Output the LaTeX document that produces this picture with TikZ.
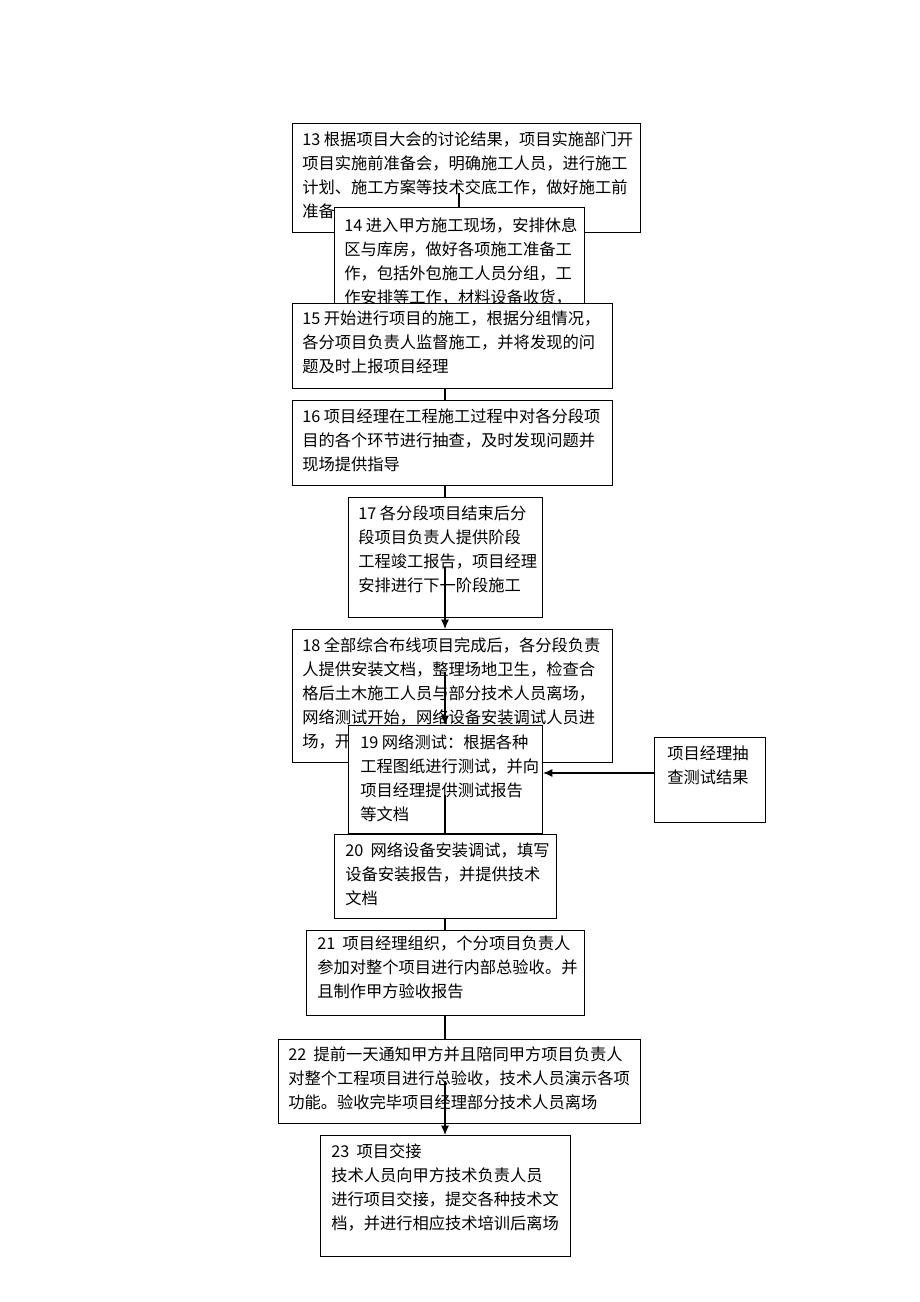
\documentclass[tikz,border=0pt]{standalone}
\usepackage{fontspec}
\usetikzlibrary{arrows.meta}
\setmainfont{Noto Sans CJK SC}
\begin{document}
\begin{tikzpicture}[x=0.75pt,y=-0.75pt,
  box/.style={draw,fill=white,line width=0.8pt,anchor=north west,inner sep=0pt},
  txt/.style={anchor=north west,inner sep=0pt,align=left,font=\fontsize{12.2}{18}\selectfont},
  con/.style={line width=0.8pt},
  arr/.style={con,-{Latex[length=7pt,width=6pt]}}]
\useasboundingbox (0,0) rectangle (920,1302);
\node[box,minimum width=261pt,minimum height=81.75pt] (b13) at (292,123) {};
\node[txt] (t13) at (302,131) {13 根据项目大会的讨论结果，项目实施部门开\\项目实施前准备会，明确施工人员，进行施工\\计划、施工方案等技术交底工作，做好施工前\\准备};
\node[box,minimum width=187.5pt,minimum height=75pt] (b14) at (334,207) {};
\node[txt] (t14) at (344,217) {14 进入甲方施工现场，安排休息\\区与库房，做好各项施工准备工\\作，包括外包施工人员分组，工\\作安排等工作，材料设备收货，};
\node[box,minimum width=240pt,minimum height=63.75pt] (b15) at (292,303) {};
\node[txt] (t15) at (302,311) {15 开始进行项目的施工，根据分组情况，\\各分项目负责人监督施工，并将发现的问\\题及时上报项目经理};
\node[box,minimum width=240pt,minimum height=63.75pt] (b16) at (292,400) {};
\node[txt] (t16) at (302,408) {16 项目经理在工程施工过程中对各分段项\\目的各个环节进行抽查，及时发现问题并\\现场提供指导};
\node[box,minimum width=145.5pt,minimum height=90pt] (b17) at (348,497) {};
\node[txt] (t17) at (358,505) {17 各分段项目结束后分\\段项目负责人提供阶段\\工程竣工报告，项目经理\\安排进行下一阶段施工};
\node[box,minimum width=240pt,minimum height=99.75pt] (b18) at (292,629) {};
\node[txt] (t18) at (302,637) {18 全部综合布线项目完成后，各分段负责\\人提供安装文档，整理场地卫生，检查合\\格后土木施工人员与部分技术人员离场，\\网络测试开始，网络设备安装调试人员进\\场，开};
\node[box,minimum width=145.5pt,minimum height=81pt] (b19) at (348,725) {};
\node[txt] (t19) at (360,734) {19 网络测试：根据各种\\工程图纸进行测试，并向\\项目经理提供测试报告\\等文档};
\node[box,minimum width=166.5pt,minimum height=63pt] (b20) at (334,834) {};
\node[txt] (t20) at (345,842) {20\ \ 网络设备安装调试，填写\\设备安装报告，并提供技术\\文档};
\node[box,minimum width=83.25pt,minimum height=63.75pt] (bR) at (654,737) {};
\node[txt] (tR) at (667,746) {项目经理抽\\查测试结果};
\node[box,minimum width=208.5pt,minimum height=63.75pt] (b21) at (306,930) {};
\node[txt] (t21) at (317,936) {21\ \ 项目经理组织，个分项目负责人\\参加对整个项目进行内部总验收。并\\且制作甲方验收报告};
\node[box,minimum width=271.5pt,minimum height=63pt] (b22) at (278,1039) {};
\node[txt] (t22) at (288,1046) {22\ \ 提前一天通知甲方并且陪同甲方项目负责人\\对整个工程项目进行总验收，技术人员演示各项\\功能。验收完毕项目经理部分技术人员离场};
\node[box,minimum width=187.5pt,minimum height=90.75pt] (b23) at (320,1135) {};
\node[txt] (t23) at (331,1143) {23\ \ 项目交接\\技术人员向甲方技术负责人员\\进行项目交接，提交各种技术文\\档，并进行相应技术培训后离场};
% connectors
\coordinate (mx) at (445,0);
\coordinate (my) at (0,773);
\coordinate (c13) at (459,193);
\coordinate (c17) at (445,567);
\coordinate (c18) at (445,672);
\coordinate (c19) at (445,795);
\coordinate (c22) at (445,1081);
\draw[con] (c13) -- (c13 |- b14.north);
\draw[con] (b15.south -| mx) -- (b16.north -| mx);
\draw[con] (b16.south -| mx) -- (b17.north -| mx);
\draw[arr] (c17) -- (b18.north -| c17);
\draw[arr] (c18) -- (b19.north -| c18);
\draw[con] (c19) -- (b20.north -| c19);
\draw[con] (b20.south -| mx) -- (b21.north -| mx);
\draw[con] (b21.south -| mx) -- (b22.north -| mx);
\draw[arr] (c22) -- (b23.north -| c22);
\draw[arr] (bR.west |- my) -- (b19.east |- my);
\end{tikzpicture}
\end{document}
